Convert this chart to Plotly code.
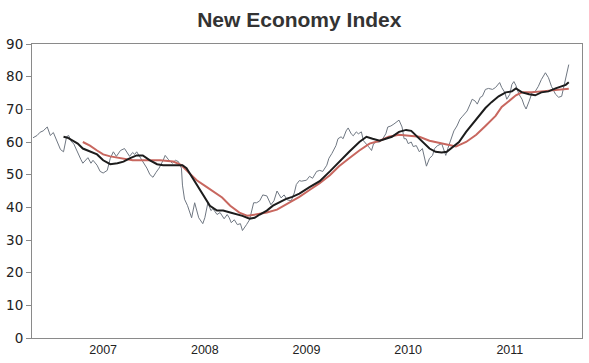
import plotly.graph_objects as go

# ---- data (decimal years, index values) ----
raw_t = [2006.31, 2006.35, 2006.38, 2006.41, 2006.45, 2006.48, 2006.51, 2006.55, 2006.58, 2006.61,
         2006.64, 2006.66, 2006.69, 2006.71, 2006.75, 2006.78, 2006.80, 2006.83, 2006.85, 2006.88,
         2006.90, 2006.94, 2006.97, 2007.00, 2007.04, 2007.07, 2007.10, 2007.13, 2007.17, 2007.21,
         2007.24, 2007.26, 2007.29, 2007.31, 2007.33, 2007.36, 2007.39, 2007.43, 2007.46, 2007.49,
         2007.52, 2007.55, 2007.59, 2007.61, 2007.64, 2007.68, 2007.71, 2007.74, 2007.77, 2007.78,
         2007.80, 2007.83, 2007.87, 2007.90, 2007.94, 2007.98, 2008.00, 2008.03, 2008.06, 2008.08,
         2008.12, 2008.15, 2008.19, 2008.22, 2008.24, 2008.26, 2008.29, 2008.32, 2008.35, 2008.37,
         2008.41, 2008.44, 2008.48, 2008.51, 2008.54, 2008.57, 2008.61, 2008.65, 2008.68, 2008.71,
         2008.75, 2008.78, 2008.81, 2008.85, 2008.88, 2008.90, 2008.93, 2008.95, 2009.00, 2009.03,
         2009.06, 2009.10, 2009.13, 2009.16, 2009.20, 2009.22, 2009.25, 2009.29, 2009.31, 2009.34,
         2009.36, 2009.39, 2009.41, 2009.44, 2009.46, 2009.49, 2009.51, 2009.54, 2009.56, 2009.59,
         2009.61, 2009.64, 2009.66, 2009.69, 2009.72, 2009.75, 2009.78, 2009.80, 2009.83, 2009.86,
         2009.89, 2009.91, 2009.94, 2009.96, 2009.98, 2010.00, 2010.03, 2010.05, 2010.08, 2010.11,
         2010.14, 2010.16, 2010.18, 2010.21, 2010.24, 2010.26, 2010.29, 2010.33, 2010.35, 2010.37,
         2010.39, 2010.42, 2010.45, 2010.48, 2010.51, 2010.53, 2010.56, 2010.58, 2010.61, 2010.63,
         2010.66, 2010.68, 2010.71, 2010.73, 2010.76, 2010.79, 2010.83, 2010.86, 2010.90, 2010.92,
         2010.95, 2010.97, 2011.00, 2011.02, 2011.04, 2011.06, 2011.09, 2011.12, 2011.14, 2011.16,
         2011.19, 2011.22, 2011.25, 2011.28, 2011.31, 2011.35, 2011.38, 2011.41, 2011.45, 2011.48,
         2011.51, 2011.53, 2011.55, 2011.58]
raw_v = [61.3, 62.0, 63.0, 63.4, 64.6, 62.0, 62.9, 60.0, 57.7, 57.0,
         61.6, 62.0, 60.0, 59.5, 56.5, 54.7, 53.5, 54.4, 55.2, 53.5,
         54.4, 52.9, 51.0, 50.5, 51.3, 55.0, 57.0, 55.6, 57.4, 58.0,
         56.5, 55.6, 56.8, 56.2, 57.0, 55.6, 54.0, 52.0, 50.0, 49.2,
         50.7, 52.0, 54.4, 55.9, 54.7, 53.5, 54.4, 54.0, 52.0, 46.8,
         42.5, 40.5, 36.8, 41.4, 36.8, 35.0, 36.8, 41.4, 39.0, 39.6,
         37.8, 38.4, 36.5, 37.8, 36.8, 35.3, 36.2, 34.7, 35.0, 32.9,
         34.7, 36.2, 41.4, 41.4, 42.0, 43.8, 43.5, 40.8, 42.0, 45.0,
         42.9, 43.8, 42.3, 42.0, 44.4, 47.0, 48.2, 48.0, 48.3, 49.5,
         48.9, 51.0, 51.3, 51.0, 52.9, 55.0, 56.5, 58.9, 61.0, 61.6,
         61.0, 63.4, 64.3, 62.5, 61.9, 63.1, 62.5, 63.1, 60.4, 59.5,
         58.6, 57.4, 59.5, 60.0, 60.0, 61.0, 62.5, 64.6, 64.9, 65.5,
         66.1, 66.7, 64.6, 61.0, 61.0, 59.5, 60.0, 58.6, 58.9, 57.0,
         58.0, 55.6, 52.6, 55.0, 55.9, 58.0, 58.9, 59.5, 57.4, 55.9,
         58.0, 61.0, 63.4, 64.9, 67.0, 67.7, 68.6, 69.5, 71.6, 73.1,
         72.5, 71.6, 73.7, 74.0, 76.1, 76.4, 76.1, 76.7, 78.2, 76.7,
         75.2, 73.1, 74.6, 77.6, 78.5, 77.3, 74.6, 73.1, 71.3, 70.1,
         72.5, 75.2, 75.5, 77.0, 79.1, 81.2, 79.7, 77.0, 74.6, 73.7,
         74.0, 76.7, 80.0, 83.7]

short_t = [2006.61, 2006.65, 2006.70, 2006.75, 2006.80, 2006.87, 2006.94, 2007.00, 2007.07, 2007.14,
           2007.20, 2007.26, 2007.33, 2007.39, 2007.46, 2007.53, 2007.59, 2007.66, 2007.73, 2007.78,
           2007.82, 2007.87, 2007.92, 2007.97, 2008.00, 2008.05, 2008.12, 2008.18, 2008.25, 2008.31,
           2008.37, 2008.44, 2008.49, 2008.54, 2008.61, 2008.67, 2008.74, 2008.80, 2008.86, 2008.93,
           2009.03, 2009.13, 2009.23, 2009.32, 2009.42, 2009.52, 2009.59, 2009.65, 2009.72, 2009.78,
           2009.84, 2009.91, 2009.98, 2010.03, 2010.08, 2010.14, 2010.21, 2010.27, 2010.33, 2010.38,
           2010.43, 2010.50, 2010.57, 2010.63, 2010.70, 2010.76, 2010.82, 2010.89, 2010.96, 2011.02,
           2011.06, 2011.12, 2011.19, 2011.25, 2011.31, 2011.38, 2011.45, 2011.51, 2011.55, 2011.58]
short_v = [61.6, 61.3, 60.4, 59.5, 58.0, 57.0, 56.2, 54.4, 53.2, 53.5,
           54.0, 55.0, 55.9, 55.9, 54.4, 53.2, 52.9, 52.9, 52.9, 52.9,
           52.0, 49.5, 46.8, 44.4, 43.0, 40.5, 39.0, 39.0, 38.4, 38.0,
           37.4, 36.5, 36.8, 37.8, 39.0, 40.5, 41.7, 42.6, 43.2, 44.2,
           46.2, 48.0, 51.0, 54.0, 57.0, 60.0, 61.6, 61.0, 60.4, 61.0,
           61.6, 63.1, 63.7, 63.4, 61.9, 60.0, 58.0, 57.0, 56.8, 57.0,
           58.3, 60.0, 63.1, 65.5, 68.0, 70.4, 72.2, 74.0, 75.2, 75.5,
           76.4, 75.2, 74.6, 74.3, 75.2, 75.5, 76.4, 77.0, 77.5, 78.3]

long_t = [2006.80, 2006.87, 2006.94, 2007.00, 2007.07, 2007.17, 2007.29, 2007.43, 2007.56, 2007.69,
          2007.77, 2007.83, 2007.92, 2008.02, 2008.12, 2008.17, 2008.25, 2008.34, 2008.42, 2008.51,
          2008.61, 2008.71, 2008.80, 2008.93, 2009.03, 2009.13, 2009.23, 2009.32, 2009.42, 2009.52,
          2009.62, 2009.72, 2009.81, 2009.91, 2010.01, 2010.11, 2010.21, 2010.30, 2010.40, 2010.47,
          2010.57, 2010.67, 2010.76, 2010.86, 2010.92, 2010.99, 2011.06, 2011.12, 2011.22, 2011.31,
          2011.41, 2011.51, 2011.58]
long_v = [60.0, 58.9, 57.4, 56.2, 55.6, 55.0, 54.4, 54.4, 54.4, 54.0,
          52.9, 51.0, 48.3, 46.2, 44.2, 43.0, 40.5, 38.4, 37.4, 37.8,
          38.4, 39.3, 40.8, 43.2, 45.3, 47.4, 49.8, 52.6, 55.0, 57.4,
          59.5, 60.4, 61.6, 62.2, 61.9, 61.6, 60.4, 59.8, 58.9, 58.6,
          60.0, 62.2, 64.9, 68.0, 70.7, 72.5, 74.3, 75.2, 75.2, 75.5,
          75.8, 76.1, 76.3]

year_ticks = [2007, 2008, 2009, 2010, 2011]
year_labels = ["2007", "2008", "2009", "2010", "2011"]
y_ticks = [0, 10, 20, 30, 40, 50, 60, 70, 80, 90]

fig = go.Figure()
fig.add_trace(go.Scatter(x=raw_t, y=raw_v, mode="lines",
                         line=dict(color="#6f7782", width=1), name="Index"))
fig.add_trace(go.Scatter(x=long_t, y=long_v, mode="lines",
                         line=dict(color="#c8675f", width=2), name="Long average"))
fig.add_trace(go.Scatter(x=short_t, y=short_v, mode="lines",
                         line=dict(color="#1c1c1c", width=2), name="Short average"))

fig.update_layout(
    width=589, height=363,
    margin=dict(l=32, r=6, t=44, b=21),
    paper_bgcolor="white", plot_bgcolor="white",
    showlegend=False,
    font=dict(family="Liberation Sans, Arial, sans-serif", color="#222222"),
    title=dict(text="<b>New Economy Index</b>", x=0.486, xref="paper", xanchor="center",
               y=1 - 19.5 / 363, yanchor="middle", yref="container",
               font=dict(size=21, color="#333333")),
    xaxis=dict(range=[2006.30, 2011.71], tickvals=year_ticks, ticktext=year_labels,
               ticks="", showgrid=False, zeroline=False,
               showline=True, linecolor="#8a8a8a", linewidth=1, mirror=True,
               tickfont=dict(size=12.5, color="#222222")),
    yaxis=dict(range=[0, 90], tickvals=y_ticks, ticks="outside", ticklen=5,
               tickcolor="#8a8a8a", showgrid=False, zeroline=False,
               showline=True, linecolor="#8a8a8a", linewidth=1, mirror=True,
               tickfont=dict(family="DejaVu Sans, sans-serif", size=13.5, color="#222222")),
)

fig.write_html("out.html", config={"displayModeBar": False},
               post_script="document.body.style.margin='0';document.body.style.overflow='hidden';")
